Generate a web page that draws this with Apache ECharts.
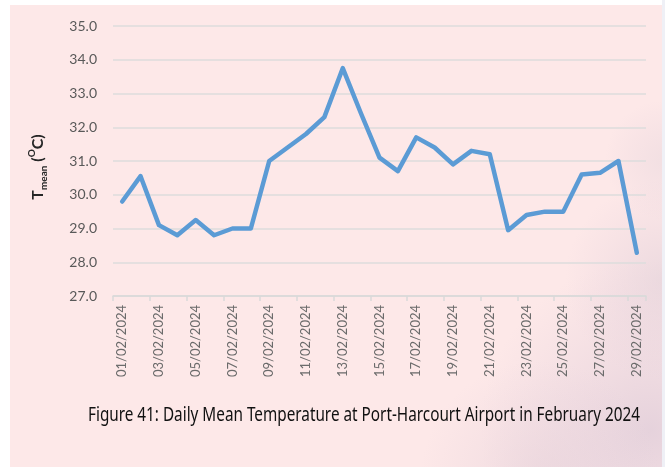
<!DOCTYPE html>
<html>
<head>
<meta charset="utf-8">
<script src="https://cdn.jsdelivr.net/npm/echarts@6/dist/echarts.min.js"></script>
<style>
  html, body { margin: 0; padding: 0; background: #ffffff; }
  #chart { width: 665px; height: 467px; }
</style>
</head>
<body>
<div id="chart"></div>
<script>
// Daily mean temperature, Port-Harcourt Airport, February 2024
const dates = [
  '01/02/2024','02/02/2024','03/02/2024','04/02/2024','05/02/2024','06/02/2024','07/02/2024',
  '08/02/2024','09/02/2024','10/02/2024','11/02/2024','12/02/2024','13/02/2024','14/02/2024',
  '15/02/2024','16/02/2024','17/02/2024','18/02/2024','19/02/2024','20/02/2024','21/02/2024',
  '22/02/2024','23/02/2024','24/02/2024','25/02/2024','26/02/2024','27/02/2024','28/02/2024',
  '29/02/2024'
];
const tMean = [
  29.8, 30.55, 29.1, 28.8, 29.25, 28.8, 29.0,
  29.0, 31.0, 31.4, 31.8, 32.3, 33.75, 32.4,
  31.1, 30.7, 31.7, 31.4, 30.9, 31.3, 31.2,
  28.95, 29.4, 29.5, 29.5, 30.6, 30.65, 31.0,
  28.28
];
const yMin = 27, yMax = 35, yStep = 1;
const captionText = 'Figure 41: Daily Mean Temperature at Port-Harcourt Airport in February 2024';

// caption is drawn in a horizontally condensed sans to fit its line width
const captionFont = '19px "Noto Sans"';
const captionWidth = 552;
const measureCtx = document.createElement('canvas').getContext('2d');
measureCtx.font = captionFont;
const captionScale = captionWidth / measureCtx.measureText(captionText).width;

const chart = echarts.init(document.getElementById('chart'), null, { renderer: 'canvas' });

// soft haze patches on the backdrop
function haze(cx, cy, r, color) {
  return {
    type: 'circle', silent: true, z: -9,
    shape: { cx: cx, cy: cy, r: r },
    style: {
      fill: {
        type: 'radial', x: 0.5, y: 0.5, r: 0.5,
        colorStops: [
          { offset: 0, color: color },
          { offset: 1, color: 'rgba(220,200,215,0)' }
        ]
      }
    }
  };
}

chart.setOption({
  animation: false,
  backgroundColor: '#ffffff',
  graphic: [
    {
      type: 'rect', silent: true, z: -10,
      shape: { x: 662, y: 0, width: 3, height: 467 },
      style: { fill: '#eff0f6' }
    },
    {
      type: 'rect', silent: true, z: -10,
      shape: { x: 10, y: 5, width: 652, height: 462 },
      style: { fill: '#fde8e8' }
    },
    {
      type: 'group', silent: true, z: -9,
      clipPath: { type: 'rect', shape: { x: 10, y: 5, width: 652, height: 462 } },
      children: [
        haze(650, 430, 170, 'rgba(210,192,210,0.55)'),
        haze(540, 480, 120, 'rgba(220,200,212,0.40)'),
        haze(665, 280, 100, 'rgba(215,200,212,0.45)'),
        haze(665, 160, 60, 'rgba(222,208,216,0.35)')
      ]
    },
    {
      type: 'text', silent: true,
      x: 38, y: 167, rotation: Math.PI / 2,
      style: {
        text: '{t|T}{s|mean}{t| (}{o|O}{t|C)}',
        align: 'center', verticalAlign: 'middle',
        rich: {
          t: { fontFamily: 'Lato', fontWeight: 'bold', fontSize: 16, fill: '#262626', lineHeight: 22, verticalAlign: 'middle' },
          s: { fontFamily: 'Lato', fontWeight: 'bold', fontSize: 10, fill: '#262626', lineHeight: 22, verticalAlign: 'bottom' },
          o: { fontFamily: 'Lato', fontWeight: 'bold', fontSize: 10, fill: '#262626', lineHeight: 22, verticalAlign: 'top' }
        }
      }
    },
    {
      type: 'text', silent: true,
      x: 88, y: 416, scaleX: captionScale,
      style: {
        text: captionText,
        align: 'left', verticalAlign: 'middle',
        font: captionFont, fill: '#111111'
      }
    }
  ],
  grid: { left: 113, right: 19, top: 26, bottom: 171, containLabel: false },
  xAxis: {
    type: 'category',
    data: dates,
    boundaryGap: true,
    axisLine: { show: true, lineStyle: { color: '#d9d9d9', width: 1.5 } },
    axisTick: { show: true, interval: 1, length: 5, lineStyle: { color: '#d9d9d9', width: 1.5 } },
    axisLabel: {
      interval: 1, rotate: 90, margin: 9,
      fontFamily: 'Lato', fontSize: 13, color: '#6b6b6b'
    },
    splitLine: { show: false }
  },
  yAxis: {
    type: 'value',
    min: yMin, max: yMax, interval: yStep,
    axisLine: { show: false },
    axisTick: { show: false },
    axisLabel: {
      margin: 16, fontFamily: 'Lato', fontSize: 14, color: '#595959',
      formatter: v => v.toFixed(1)
    },
    splitLine: { show: true, lineStyle: { color: '#dcdcdc', width: 1.5 } }
  },
  series: [{
    type: 'line',
    data: tMean,
    symbol: 'none',
    lineStyle: { color: '#5b9bd5', width: 4.5, cap: 'round', join: 'round' },
    z: 5
  }]
});
</script>
</body>
</html>
